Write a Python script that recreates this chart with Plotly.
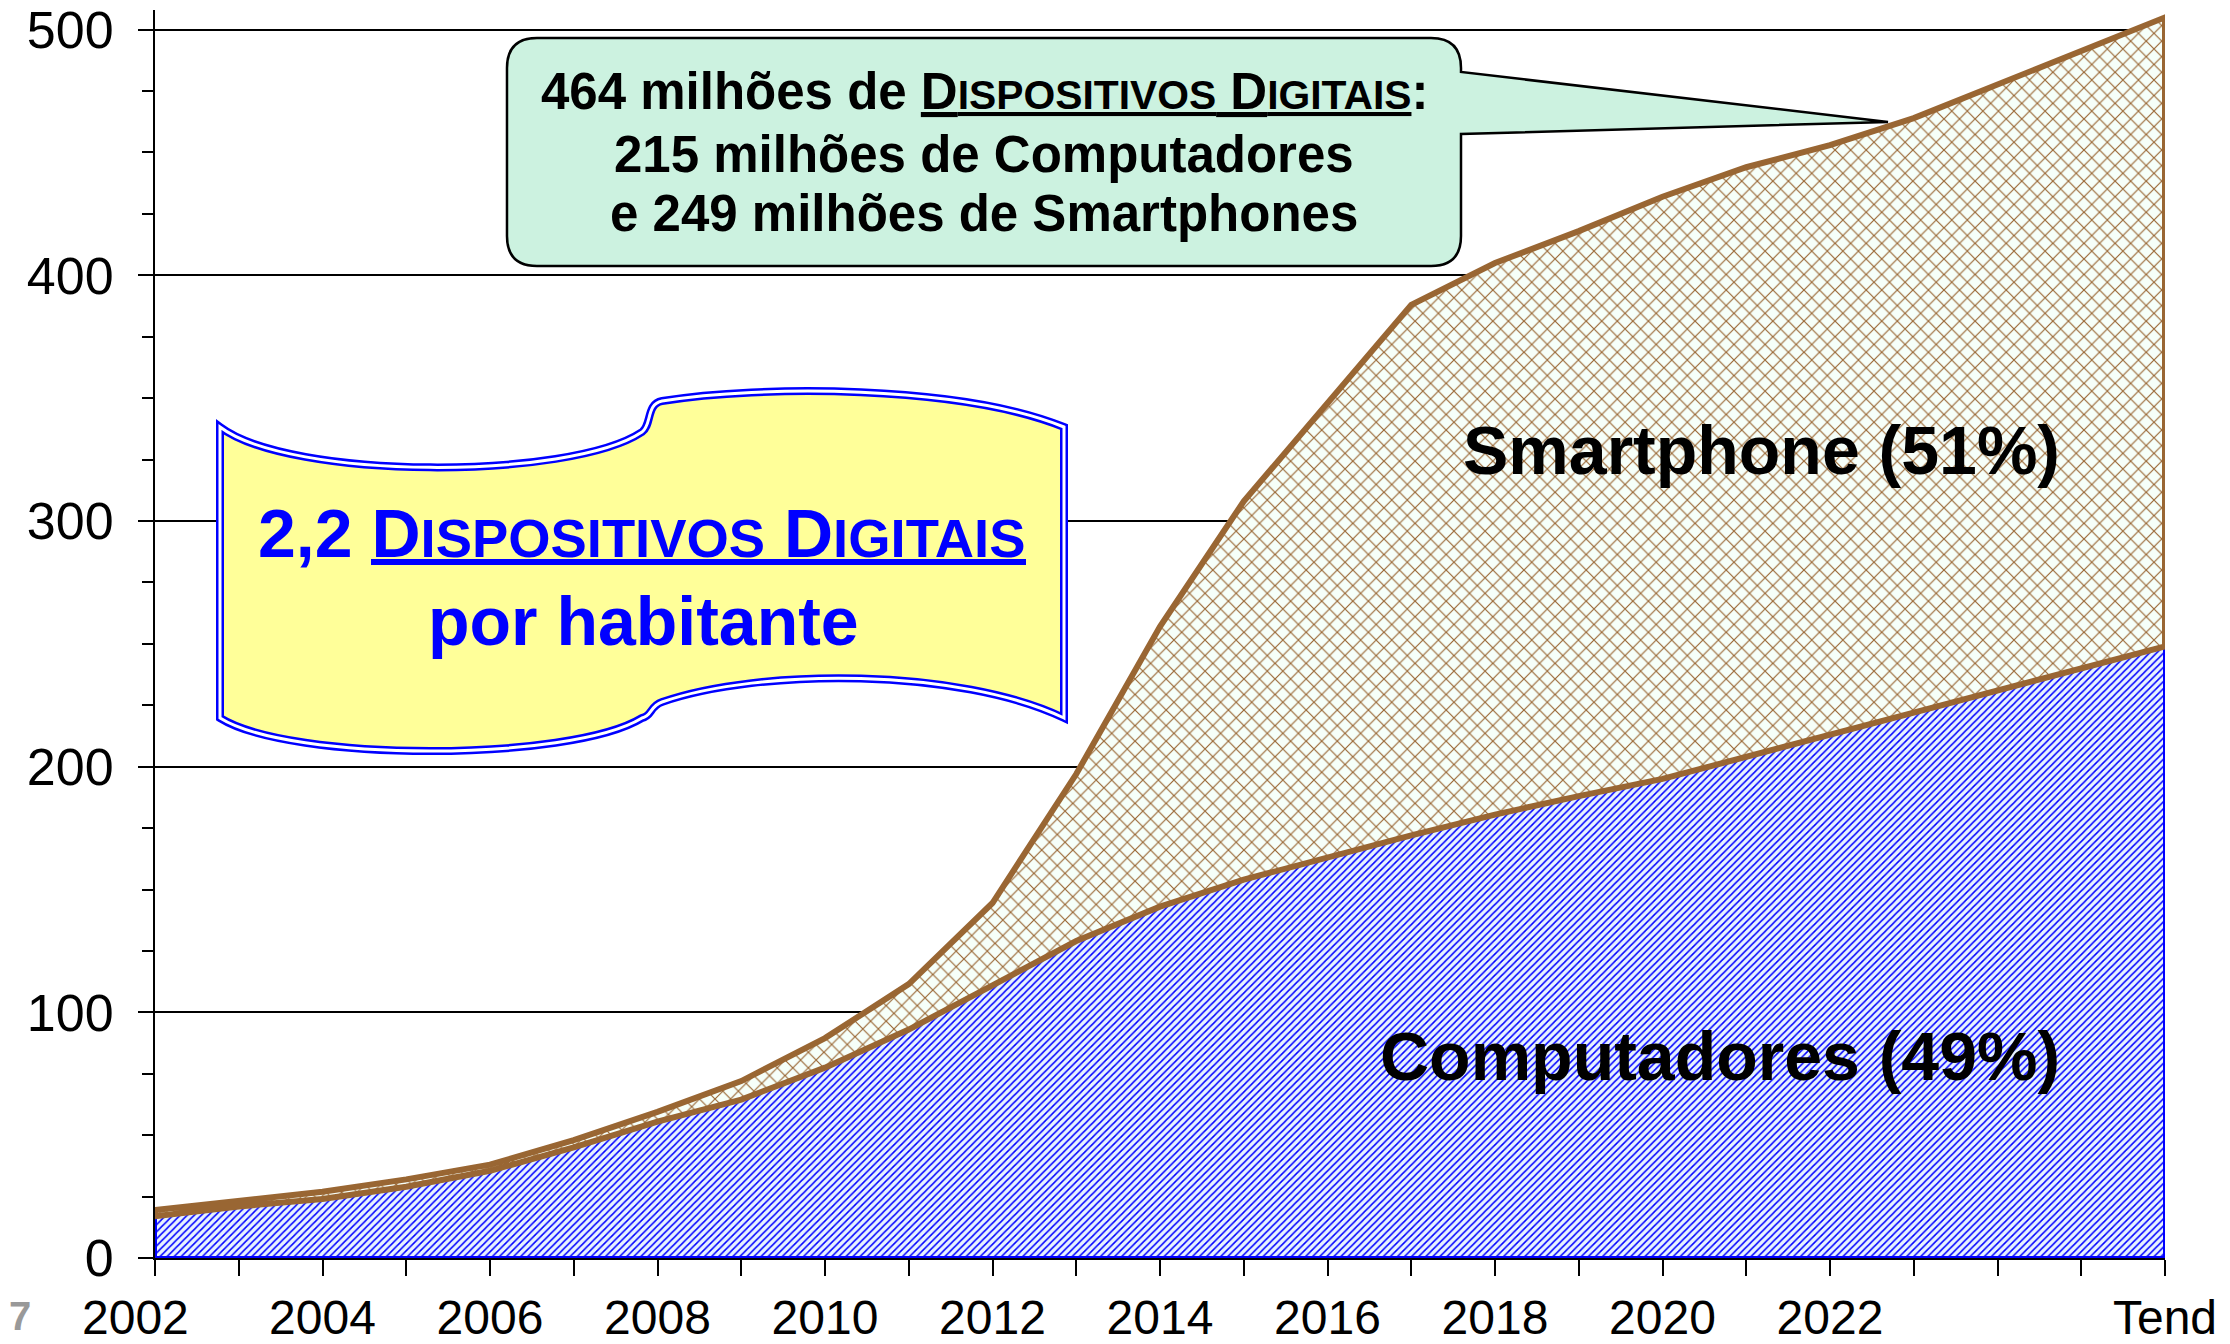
import plotly.graph_objects as go

# ---------------- data ----------------
categories = ["2002", "2003", "2004", "2005", "2006", "2007", "2008", "2009",
              "2010", "2011", "2012", "2013", "2014", "2015", "2016", "2017",
              "2018", "2019", "2020", "2021", "2022", "2023", "Tend"]
computadores = [17, 21, 24, 29, 35.5, 45, 55.5, 64.5, 77.5, 93, 111, 129,
                143, 154, 163, 172, 180.5, 188, 195, 204, 213, 222, 249]
smartphones = [2.5, 2, 3, 3, 2.5, 3, 4, 7.5, 12, 18.5, 33.5, 68,
               114, 154, 185, 216, 224.5, 230, 237, 240, 240, 242, 256]
# first label (2002) is drawn separately, shifted left as in the original
tick_labels = ["", "", "2004", "", "2006", "", "2008", "", "2010", "",
               "2012", "", "2014", "", "2016", "", "2018", "", "2020", "",
               "2022", "", "", "", "Tend"]
first_label = "2002"
y_ticks = [0, 100, 200, 300, 400, 500]
TEND_POS = 2026  # axis position of the "Tend" category

# ---------------- layout constants ----------------
W, H = 2230, 1344
L, R, T, B = 155, 65, 10, 86
PW, PH = W - L - R, H - T - B
FONT = "Liberation Sans, Arial, sans-serif"
BROWN = "#996633"
BLUE = "#0000FF"

xs = [TEND_POS if c == "Tend" else int(c) for c in categories]
total = [c + s for c, s in zip(computadores, smartphones)]


def px(x):
    return (x - L) / PW


def py(y):
    return (H - B - y) / PH


def path(cmds):
    out = []
    for c in cmds:
        if isinstance(c, str):
            out.append(c)
        else:
            out.append("%.5f,%.5f" % (px(c[0]), py(c[1])))
    return " ".join(out)


fig = go.Figure()

# Computadores area (closed polygon down to zero)
fig.add_trace(go.Scatter(
    x=xs + [xs[-1], xs[0], xs[0]],
    y=computadores + [0, 0, computadores[0]],
    mode="lines", fill="toself",
    fillpattern=dict(shape="/", fgcolor=BLUE, bgcolor="#E8F3FF",
                     size=5, solidity=0.3, fillmode="replace"),
    line=dict(color=BLUE, width=4),
    hoverinfo="skip", showlegend=False,
))

# Smartphone area (stacked above computadores)
fig.add_trace(go.Scatter(
    x=xs + xs[::-1] + [xs[0]],
    y=total + computadores[::-1] + [total[0]],
    mode="lines", fill="toself",
    fillpattern=dict(shape="x", fgcolor=BROWN, bgcolor="#F6FFF9",
                     size=11, solidity=0.2, fillmode="replace"),
    line=dict(color=BROWN, width=6),
    hoverinfo="skip", showlegend=False,
))

# ---------------- shapes ----------------
scroll = path([
    "M", (220, 427),
    "C", (290, 480), (570, 480), (642, 432),
    "C", (652, 425), (646, 404), (662, 401),
    "C", (760, 385), (960, 385), (1064, 427),
    "L", (1064, 718),
    "C", (960, 668), (760, 668), (662, 702),
    "C", (650, 706), (652, 716), (642, 718),
    "C", (570, 762), (290, 762), (220, 718),
    "Z",
])
callout = path([
    "M", (537, 38), "L", (1431, 38),
    "Q", (1461, 38), (1461, 68),
    "L", (1461, 72), "L", (1888, 122), "L", (1461, 134),
    "L", (1461, 236),
    "Q", (1461, 266), (1431, 266),
    "L", (537, 266),
    "Q", (507, 266), (507, 236),
    "L", (507, 68),
    "Q", (507, 38), (537, 38),
    "Z",
])
shapes = [
    dict(type="path", xref="paper", yref="paper", path=scroll,
         fillcolor="#FFFF99", line=dict(color=BLUE, width=8), layer="above"),
    dict(type="path", xref="paper", yref="paper", path=scroll,
         fillcolor="rgba(0,0,0,0)", line=dict(color="white", width=3), layer="above"),
    dict(type="path", xref="paper", yref="paper", path=callout,
         fillcolor="#CCF2E0", line=dict(color="black", width=2.5), layer="above"),
    # thick underline below "DISPOSITIVOS DIGITAIS" in the scroll
    dict(type="line", xref="paper", yref="paper",
         x0=px(371), x1=px(1026), y0=py(562), y1=py(562),
         line=dict(color=BLUE, width=6), layer="above"),
]


def ann(text, x, y, size, color="black", xanchor="center"):
    return dict(text=text, x=px(x), y=py(y), xref="paper", yref="paper",
                showarrow=False, xanchor=xanchor, yanchor="middle",
                font=dict(family=FONT, size=size, color=color))


def sc(s):
    return '<span style="font-size:80%">' + s + '</span>'


dd_plain = 'D' + sc("ISPOSITIVOS") + ' D' + sc("IGITAIS")
dd_under = '<span style="text-decoration:underline">' + dd_plain + '</span>'

annotations = [
    ann("<b>464 milhões de " + dd_under + ":</b>", 984, 92, 51),
    ann("<b>215 milhões de Computadores</b>", 984, 154, 51),
    ann("<b>e 249 milhões de Smartphones</b>", 984, 214, 51),
    ann("<b>2,2 " + dd_plain + "</b>", 642, 533, 68, BLUE),
    ann("<b>por habitante</b>", 643, 621, 68, BLUE),
    ann("<b>Smartphone (51%)</b>", 2062, 450, 68, xanchor="right"),
    ann("<b>Computadores (49%)</b>", 2062, 1056, 68, xanchor="right"),
    ann("<b>7</b>", 20, 1316, 40, "#999999"),
    ann(first_label, 135, 1317, 48),
]

fig.update_layout(
    width=W, height=H,
    margin=dict(l=L, r=R, t=T, b=B, pad=0, autoexpand=False),
    paper_bgcolor="white", plot_bgcolor="white",
    font=dict(family=FONT, color="black"),
    xaxis=dict(range=[2002, TEND_POS], automargin=False,
               tickvals=list(range(2002, TEND_POS + 1)), ticktext=tick_labels,
               ticks="outside", ticklen=16, tickwidth=2, tickcolor="black",
               showline=True, linecolor="black", linewidth=2,
               showgrid=False, zeroline=False, ticklabelstandoff=0,
               tickfont=dict(family=FONT, size=48, color="black")),
    yaxis=dict(range=[0, 508], tickvals=y_ticks, automargin=False,
               ticks="outside", ticklen=15, tickwidth=2, tickcolor="black",
               minor=dict(dtick=25, tick0=0, ticks="outside", ticklen=11,
                          tickwidth=2, tickcolor="black", showgrid=False),
               showline=True, linecolor="black", linewidth=2,
               showgrid=True, gridcolor="black", gridwidth=1.5,
               zeroline=False, ticklabelstandoff=14,
               tickfont=dict(family=FONT, size=52, color="black")),
    yaxis2=dict(range=[0, 508], overlaying="y", anchor="x", side="left",
                automargin=False,
                tickvals=list(range(0, 501, 25)), ticks="inside", ticklen=12,
                tickwidth=2, tickcolor="black", showticklabels=False,
                showgrid=False, showline=False, zeroline=False),
    shapes=shapes,
    annotations=annotations,
)

fig.write_html("out.html", config={"displayModeBar": False},
               post_script="document.body.style.margin='0';")
